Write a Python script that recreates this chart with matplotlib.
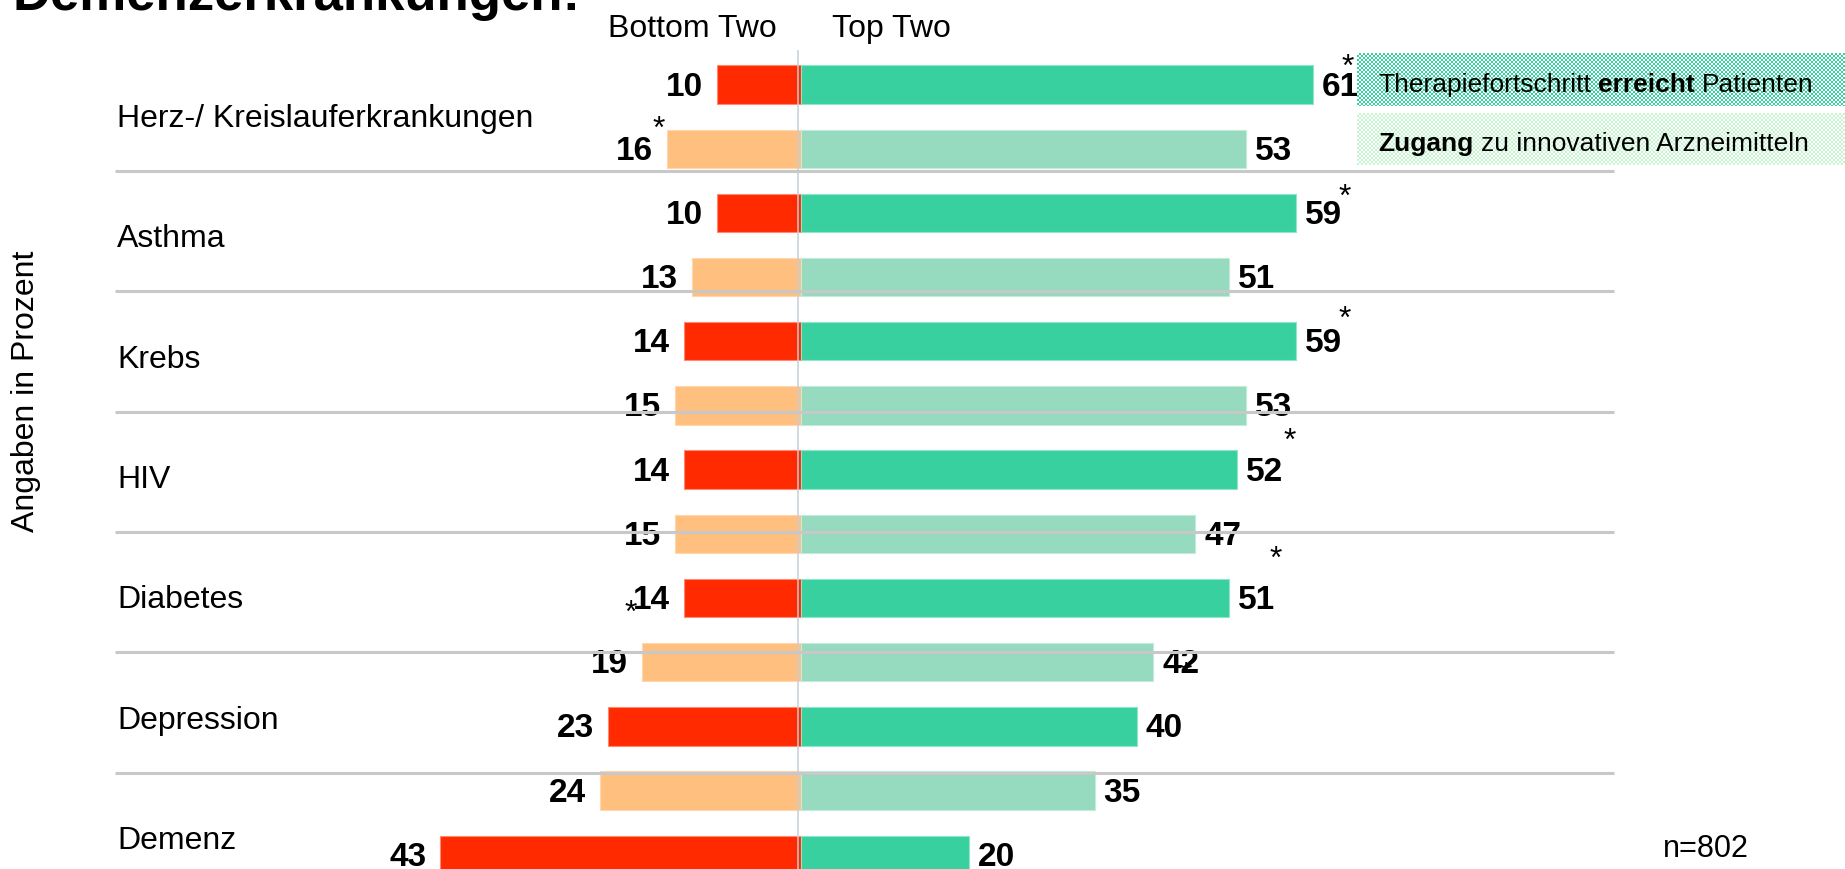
import numpy as np
import matplotlib
matplotlib.use("Agg")
import matplotlib.pyplot as plt
from matplotlib.transforms import blended_transform_factory

# ---------------- data ----------------
categories = ["Herz-/ Kreislauferkrankungen", "Asthma", "Krebs", "HIV",
              "Diabetes", "Depression", "Demenz"]
# "Therapiefortschritt erreicht Patienten"
erreicht_bottom = [10, 10, 14, 14, 14, 23, 43]
erreicht_top = [61, 59, 59, 52, 51, 40, 20]
# "Zugang zu innovativen Arzneimitteln" (Demenz row is cut off in the source)
zugang_bottom = [16, 13, 15, 15, 19, 24]
zugang_top = [53, 51, 53, 47, 42, 35]
header_left = "Bottom Two"
header_right = "Top Two"
legend_labels = [["Therapiefortschritt ", "erreicht", " Patienten"],
                 ["Zugang", " zu innovativen Arzneimitteln"]]
legend_bold = [[False, True, False], [True, False]]
# significance markers: (value position, row position)
stars = [(65.2, -0.43), (-17.0, 0.54), (64.8, 1.60), (64.8, 3.49),
         (58.2, 5.40), (56.6, 7.23), (-20.3, 8.07), (45.9, 9.04)]
title = "Demenzerkrankungen:"
ylabel = "Angaben in Prozent"
note = "n=802"

# ---------------- style ----------------
plt.rcParams['font.family'] = ['Liberation Sans', 'DejaVu Sans']
W, H = 1845, 870
DPI = 100
c_dark_red = "#ff2a00"
c_light_or = "#ffbf7e"
c_dark_gr = "#37d09e"
c_light_gr = "#96dac0"
e_dark_red = "#ff8a73"
e_light_or = "#ffd6ae"
e_dark_gr = "#8fe6c8"
e_light_gr = "#c3ecdc"

fig = plt.figure(figsize=(W / DPI, H / DPI), dpi=DPI)
fig.patch.set_facecolor("white")

# mapping: value 0 at x=801px, 8.39 px per percent; row k center at 85.5+64.19k px
x0, ppu = 801.0, 8.39
y0, ppr = 85.5, 64.19
ax = fig.add_axes([0, 0, 1, 1])
ax.set_xlim(-x0 / ppu, (W - x0) / ppu)
ax.set_ylim((H - y0) / ppr, -y0 / ppr)
ax.axis("off")

# category axis (labels + separators), category c center at 111.85+120.3c px
cy0, cpr = 111.85, 120.3
ax2 = fig.add_axes([0, 0, 1, 1], sharex=ax)
ax2.set_ylim((H - cy0) / cpr, -cy0 / cpr)
ax2.axis("off")
ax2.patch.set_alpha(0)

# pixel axes for decorations
axp = fig.add_axes([0, 0, 1, 1])
axp.set_xlim(0, W)
axp.set_ylim(H, 0)
axp.axis("off")
axp.patch.set_alpha(0)

bh = 38.3 / ppr
n_cat = len(categories)
rows_e = np.arange(n_cat) * 2
rows_z = np.arange(len(zugang_bottom)) * 2 + 1

ax.barh(rows_e, [-v for v in erreicht_bottom], height=bh, color=c_dark_red,
        edgecolor=e_dark_red, linewidth=0.8, zorder=2)
ax.barh(rows_e, erreicht_top, height=bh, color=c_dark_gr,
        edgecolor=e_dark_gr, linewidth=0.8, zorder=2)
ax.barh(rows_z, [-v for v in zugang_bottom], height=bh, color=c_light_or,
        edgecolor=e_light_or, linewidth=0.8, zorder=2)
ax.barh(rows_z, zugang_top, height=bh, color=c_light_gr,
        edgecolor=e_light_gr, linewidth=0.8, zorder=2)

lab_kw = dict(fontsize=24, fontweight="bold", color="black", va="baseline",
              textcoords="offset pixels", zorder=3)
for rows, lefts, rights in [(rows_e, erreicht_bottom, erreicht_top),
                            (rows_z, zugang_bottom, zugang_top)]:
    for r, lv, rv in zip(rows, lefts, rights):
        ax.annotate(str(lv), (-lv, r), xytext=(-14, -10), ha="right", **lab_kw)
        ax.annotate(str(rv), (rv, r), xytext=(9, -10), ha="left", **lab_kw)

for sx, sy in stars:
    ax.annotate("*", (sx, sy), xytext=(0, -18), textcoords="offset pixels",
                ha="center", va="baseline", fontsize=23, color="black", zorder=4)

# centre line
ax.vlines(-0.3, (51 - y0) / ppr, (H - y0) / ppr, color="#c5ced6",
          linewidth=1.1, zorder=5)

# separators and category labels
tr2 = blended_transform_factory(ax2.transAxes, ax2.transData)
for c in range(n_cat - 1):
    ax2.plot([115 / W, 1614 / W], [c + 0.5, c + 0.5], transform=tr2,
             color="#c8c8c8", linewidth=2.2, solid_capstyle="butt", zorder=6)
for c, name in enumerate(categories):
    ax2.text(117 / W, c + 0.06, name, transform=tr2, ha="left", va="center",
             fontsize=23, color="black")

# headers, title, y label, note
axp.text(777, 29, header_left, ha="right", va="center", fontsize=23)
axp.text(832, 29, header_right, ha="left", va="center", fontsize=23)
axp.text(12, 10, title, ha="left", va="baseline", fontsize=38, fontweight="bold")
axp.text(26, 391, ylabel, rotation=90, ha="center", va="center", fontsize=23)
axp.text(1663, 857, note, ha="left", va="baseline", fontsize=22)

# legend boxes with checker pattern
def checker(color, x_a, x_b, y_a, y_b, cell=2):
    w, h = x_b - x_a, y_b - y_a
    yy, xx = np.mgrid[0:h, 0:w]
    mask = ((xx // cell + yy // cell) % 2).astype(bool)
    rgb = np.array(matplotlib.colors.to_rgb(color))
    img = np.ones((h, w, 3))
    img[mask] = rgb
    axp.imshow(img, extent=(x_a, x_b, y_b, y_a), interpolation="nearest",
               aspect="auto", zorder=1)

checker("#37d09e", 1357, W, 54, 107)
checker("#c4f5cf", 1357, W, 114, 166)
axp.set_xlim(0, W)
axp.set_ylim(H, 0)

renderer = fig.canvas.get_renderer()
space = 0.278 * 19 * DPI / 72
for yb, parts, bolds in [(92, legend_labels[0], legend_bold[0]),
                         (151, legend_labels[1], legend_bold[1])]:
    x = 1378
    for p, b in zip(parts, bolds):
        lead = p.startswith(" ")
        txt = p.strip()
        if lead:
            x += space
        t = axp.text(x, yb, txt, ha="left", va="baseline", fontsize=19,
                     fontweight="bold" if b else "normal", zorder=3)
        bb = t.get_window_extent(renderer=renderer)
        x = bb.x1
        if p.endswith(" "):
            x += space

fig.savefig("out.png", dpi=DPI)
